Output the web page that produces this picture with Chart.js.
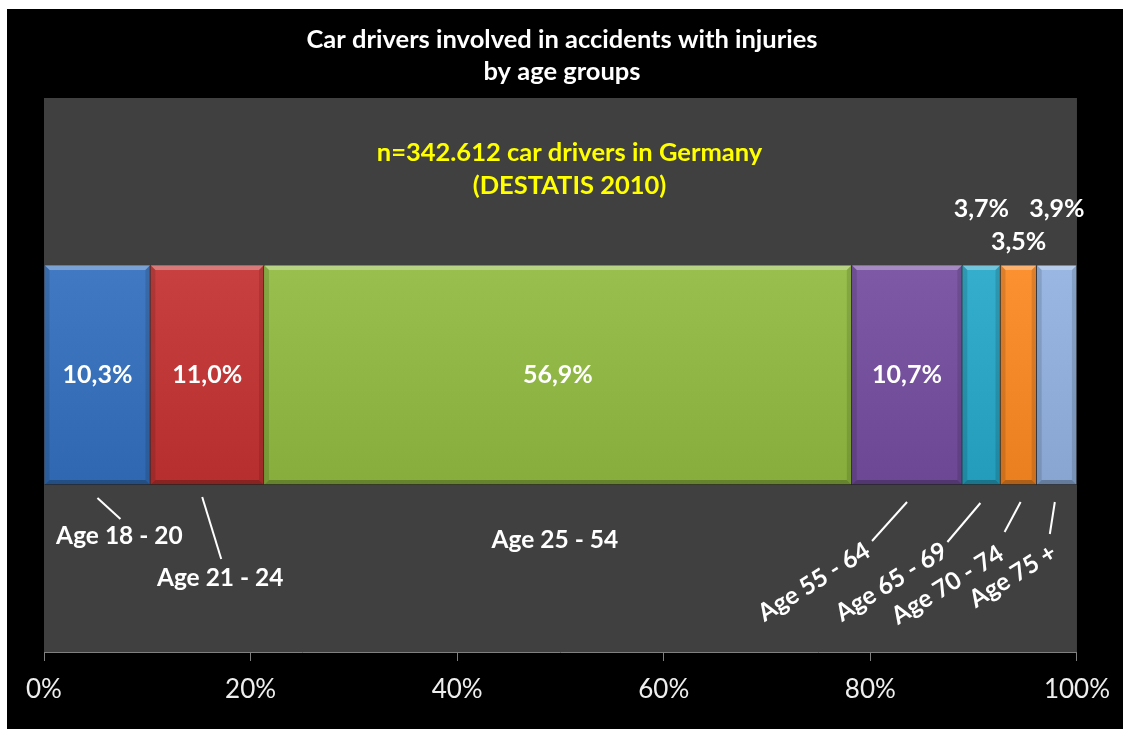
<!DOCTYPE html>
<html lang="en">
<head>
    <meta charset="UTF-8">
    <title>Car drivers involved in accidents with injuries</title>
    <style>
        html, body {
            margin: 0;
            overflow: hidden;
            background-color: #ffffff;
        }

        /* black chart box, white strip left and top like the original */
        #age-chart {
            position: absolute;
            left: 7px;
            top: 9px;
            background-color: #000000;
        }
    </style>
    <script src="https://cdn.jsdelivr.net/npm/chart.js"></script>
</head>
<body>

    <canvas id="age-chart" width="1116" height="720"></canvas>

    <script>
        // Data
        const ageGroups = ['Age 18 - 20', 'Age 21 - 24', 'Age 25 - 54', 'Age 55 - 64', 'Age 65 - 69', 'Age 70 - 74', 'Age 75 +'];
        const shares = [10.3, 11.0, 56.9, 10.7, 3.7, 3.5, 3.9];
        const xTicks = [0, 20, 40, 60, 80, 100];
        const titleLines = ['Car drivers involved in accidents with injuries', 'by age groups'];
        const noteLines = ['n=342.612 car drivers in Germany', '(DESTATIS 2010)'];

        const colors = ['#3b74bc', '#c23b3a', '#93ba48', '#7854a0', '#2fa7c6', '#f68b2b', '#93b1dc'];

        // where the text sits, relative to the segment (centre x, top / bottom edge)
        // value: inside = centred in bar, else dy above bar top
        const valuePlace = [null, null, null, null, { dy: -56 }, { dy: -23 }, { dy: -56 }];
        // category label: offset from bottom-centre, rotation, leader line (two points)
        const namePlace = [
            { dx: 22, dy: 51, rot: 0, line: [0, 13, 23, 34] },
            { dx: 13, dy: 93, rot: 0, line: [-5, 12, 14, 74] },
            { dx: -3, dy: 55, rot: 0, line: null },
            { dx: -93, dy: 97, rot: -32, line: [0, 17, -35, 56] },
            { dx: -90, dy: 97, rot: -32, line: [-1, 18, -34, 57] },
            { dx: -71, dy: 100, rot: -32, line: [2, 17, -14, 47] },
            { dx: -44, dy: 91, rot: -32, line: [-2, 17, -7, 49] }
        ];

        const fontFamily = 'Lato, "Open Sans", sans-serif';

        function pct(v) {
            return v.toFixed(1).replace('.', ',') + '%';
        }

        function shade(hex, amt) {
            const n = parseInt(hex.slice(1), 16);
            let r = (n >> 16) + amt, g = ((n >> 8) & 255) + amt, b = (n & 255) + amt;
            r = Math.max(0, Math.min(255, r));
            g = Math.max(0, Math.min(255, g));
            b = Math.max(0, Math.min(255, b));
            return 'rgb(' + r + ',' + g + ',' + b + ')';
        }

        // grey plot area
        const plotBackground = {
            id: 'plotBackground',
            beforeDraw(chart) {
                const a = chart.chartArea;
                const ctx = chart.ctx;
                ctx.save();
                ctx.fillStyle = '#404040';
                ctx.fillRect(a.left, a.top, a.right - a.left, a.bottom - a.top);
                ctx.restore();
            }
        };

        // bevel on the segments + all the text inside the plot
        const barText = {
            id: 'barText',
            afterDatasetsDraw(chart) {
                const ctx = chart.ctx;
                const a = chart.chartArea;
                ctx.save();

                chart.data.datasets.forEach((ds, i) => {
                    const el = chart.getDatasetMeta(i).data[0];
                    const left = Math.min(el.base, el.x), right = Math.max(el.base, el.x);
                    const top = el.y - el.height / 2, bottom = el.y + el.height / 2;
                    const b = 5;

                    // soft bevel
                    ctx.fillStyle = 'rgba(255,255,255,0.30)';
                    ctx.beginPath();
                    ctx.moveTo(left, top); ctx.lineTo(right, top);
                    ctx.lineTo(right - b, top + b); ctx.lineTo(left + b, top + b);
                    ctx.closePath(); ctx.fill();

                    ctx.fillStyle = 'rgba(0,0,0,0.25)';
                    ctx.beginPath();
                    ctx.moveTo(left, bottom); ctx.lineTo(right, bottom);
                    ctx.lineTo(right - b, bottom - b); ctx.lineTo(left + b, bottom - b);
                    ctx.closePath(); ctx.fill();

                    ctx.fillStyle = 'rgba(0,0,0,0.12)';
                    ctx.beginPath();
                    ctx.moveTo(left, top); ctx.lineTo(left + b, top + b);
                    ctx.lineTo(left + b, bottom - b); ctx.lineTo(left, bottom);
                    ctx.closePath(); ctx.fill();
                    ctx.beginPath();
                    ctx.moveTo(right, top); ctx.lineTo(right - b, top + b);
                    ctx.lineTo(right - b, bottom - b); ctx.lineTo(right, bottom);
                    ctx.closePath(); ctx.fill();

                    const cx = (left + right) / 2;

                    // value label
                    ctx.fillStyle = '#ffffff';
                    ctx.font = 'bold 25px ' + fontFamily;
                    ctx.textAlign = 'center';
                    ctx.textBaseline = 'middle';
                    const vp = valuePlace[i];
                    if (vp) {
                        ctx.fillText(pct(shares[i]), cx, top + vp.dy);
                    } else {
                        ctx.fillText(pct(shares[i]), cx, el.y);
                    }

                    // category label with leader line
                    const np = namePlace[i];
                    if (np.line) {
                        ctx.strokeStyle = '#ffffff';
                        ctx.lineWidth = 2;
                        ctx.beginPath();
                        ctx.moveTo(cx + np.line[0], bottom + np.line[1]);
                        ctx.lineTo(cx + np.line[2], bottom + np.line[3]);
                        ctx.stroke();
                    }
                    ctx.font = 'bold 24.5px ' + fontFamily;
                    ctx.save();
                    ctx.translate(cx + np.dx, bottom + np.dy);
                    ctx.rotate(np.rot * Math.PI / 180);
                    ctx.fillText(ds.label, 0, 0);
                    ctx.restore();
                });

                // yellow note
                ctx.fillStyle = '#ffff00';
                ctx.font = 'bold 25.5px ' + fontFamily;
                ctx.textAlign = 'center';
                ctx.textBaseline = 'middle';
                const mid = (a.left + a.right) / 2 + 9;
                ctx.fillText(noteLines[0], mid, a.top + 55);
                ctx.fillText(noteLines[1], mid, a.top + 88);

                ctx.restore();
            }
        };

        const ctx = document.getElementById('age-chart').getContext('2d');
        new Chart(ctx, {
            type: 'bar',
            data: {
                labels: [''],
                datasets: ageGroups.map((name, i) => ({
                    label: name,
                    data: [shares[i]],
                    backgroundColor: (c) => {
                        const area = c.chart.chartArea;
                        if (!area) return colors[i];
                        const mid = (area.top + area.bottom) / 2;
                        const g = c.chart.ctx.createLinearGradient(0, mid - 110, 0, mid + 110);
                        g.addColorStop(0, shade(colors[i], 6));
                        g.addColorStop(1, shade(colors[i], -12));
                        return g;
                    },
                    borderColor: 'rgba(0,0,0,0.25)',
                    borderWidth: 1,
                    barThickness: 220
                }))
            },
            options: {
                indexAxis: 'y',
                responsive: false,
                animation: false,
                layout: {
                    padding: { left: 37, right: 43, top: 0, bottom: 0 }
                },
                scales: {
                    x: {
                        stacked: true,
                        min: 0,
                        max: 100,
                        afterBuildTicks: (scale) => {
                            scale.ticks = xTicks.map(v => ({ value: v }));
                        },
                        afterFit: (scale) => {
                            scale.height = 77;
                        },
                        grid: {
                            drawOnChartArea: false,
                            color: '#808080',
                            tickLength: 9
                        },
                        border: { color: '#808080' },
                        ticks: {
                            color: '#eeeeee',
                            padding: 13,
                            maxRotation: 0,
                            font: { family: fontFamily, size: 26 },
                            callback: (v) => v + '%'
                        }
                    },
                    y: {
                        stacked: true,
                        display: false
                    }
                },
                plugins: {
                    legend: { display: false },
                    tooltip: { enabled: false },
                    title: {
                        display: true,
                        text: titleLines,
                        color: '#ffffff',
                        font: { family: fontFamily, size: 25.5, weight: 'bold', lineHeight: 1.255 },
                        padding: { top: 15, bottom: 10 }
                    }
                }
            },
            plugins: [plotBackground, barText]
        });
    </script>
</body>
</html>
